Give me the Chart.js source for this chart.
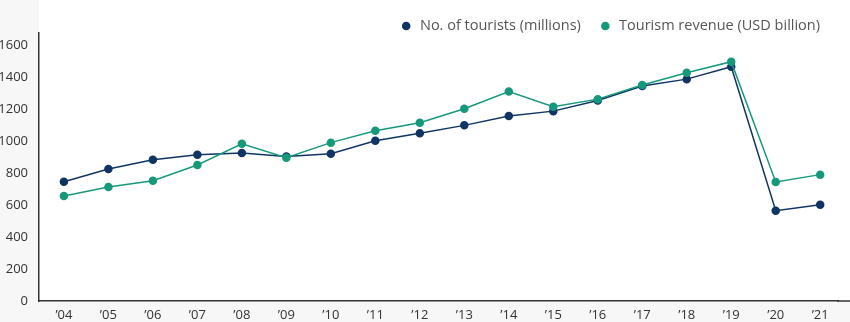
<!DOCTYPE html>
<html>
<head>
<meta charset="utf-8">
<script src="https://cdn.jsdelivr.net/npm/chart.js@4/dist/chart.umd.min.js"></script>
<style>
  html, body { margin: 0; padding: 0; background: #f7f7f7; }
  #wrap { width: 850px; height: 322px; position: relative; }
</style>
</head>
<body>
<div id="wrap"><canvas id="myChart"></canvas></div>
<script>
// years on the x axis
var years = ['\u201904', '\u201905', '\u201906', '\u201907', '\u201908', '\u201909', '\u201910', '\u201911', '\u201912',
             '\u201913', '\u201914', '\u201915', '\u201916', '\u201917', '\u201918', '\u201919', '\u201920', '\u201921'];

// No. of tourists (millions)
var tourists = [746, 825, 883, 915, 925, 904, 920, 1002, 1048, 1098, 1156, 1187, 1253, 1344, 1387, 1465, 564, 602];

// Tourism revenue (USD billion)
var revenue = [656, 712, 752, 850, 983, 896, 990, 1064, 1114, 1202, 1310, 1215, 1262, 1350, 1427, 1496, 744, 790];

var NAVY = '#103564';
var GREEN = '#16997b';
var AXIS = '#333333';
var FONT = "'Open Sans', 'Noto Sans', sans-serif";

function toPoints(values) {
    return values.map(function(v, i) { return { x: i, y: v }; });
}

// white plot panel behind the lines, page stays light grey
var panel = {
    id: 'panel',
    beforeDraw: function(chart) {
        var ctx = chart.ctx, a = chart.chartArea;
        ctx.save();
        ctx.fillStyle = '#ffffff';
        ctx.fillRect(a.left, 0, chart.width - a.left, a.bottom);
        ctx.restore();
    },
    afterDraw: function(chart) {
        // run the baseline out to the right edge
        var ctx = chart.ctx, a = chart.chartArea;
        ctx.save();
        ctx.strokeStyle = AXIS;
        ctx.lineWidth = 1.5;
        ctx.beginPath();
        ctx.moveTo(a.right - 1, a.bottom);
        ctx.lineTo(chart.width, a.bottom);
        ctx.stroke();
        ctx.restore();
    }
};

document.addEventListener('DOMContentLoaded', function() {
    var ctx = document.getElementById('myChart').getContext('2d');

    var myChart = new Chart(ctx, {
        type: 'line',
        data: {
            datasets: [{
                label: 'No. of tourists (millions)',
                data: toPoints(tourists),
                borderColor: NAVY,
                backgroundColor: NAVY,
                pointBackgroundColor: NAVY,
                pointBorderColor: NAVY,
                borderWidth: 1.5,
                order: 1
            }, {
                label: 'Tourism revenue (USD billion)',
                data: toPoints(revenue),
                borderColor: GREEN,
                backgroundColor: GREEN,
                pointBackgroundColor: GREEN,
                pointBorderColor: GREEN,
                borderWidth: 1.5,
                order: 0
            }]
        },
        options: {
            responsive: true,
            maintainAspectRatio: false,
            animation: false,
            layout: {
                padding: { top: 0.75, right: 12, left: 0, bottom: 0 }
            },
            elements: {
                line: { tension: 0 },
                point: { radius: 3.5, borderWidth: 1, hoverRadius: 4 }
            },
            plugins: {
                tooltip: { enabled: false },
                legend: {
                    position: 'top',
                    align: 'end',
                    maxHeight: 32,
                    labels: {
                        usePointStyle: true,
                        pointStyle: 'circle',
                        boxWidth: 13,
                        boxHeight: 5,
                        padding: 18,
                        color: '#555555',
                        font: { family: FONT, size: 14.5 },
                        sort: function(a, b) { return a.datasetIndex - b.datasetIndex; }
                    }
                }
            },
            scales: {
                x: {
                    type: 'linear',
                    min: -0.56,
                    max: 17.4,
                    grid: { display: false, drawTicks: false },
                    border: { display: true, color: AXIS, width: 1.5 },
                    afterFit: function(scale) { scale.height = 21; },
                    ticks: {
                        stepSize: 1,
                        includeBounds: false,
                        autoSkip: false,
                        maxRotation: 0,
                        padding: 6,
                        color: AXIS,
                        font: { family: FONT, size: 13 },
                        callback: function(value) { return years[value]; }
                    }
                },
                y: {
                    min: 0,
                    max: 1677,
                    grid: { display: false, drawTicks: false },
                    border: { display: true, color: AXIS, width: 1.5 },
                    afterFit: function(scale) { scale.width = 39; },
                    ticks: {
                        stepSize: 200,
                        includeBounds: false,
                        padding: 11,
                        color: AXIS,
                        font: { family: FONT, size: 13 },
                        callback: function(value) { return String(value); }
                    }
                }
            }
        },
        plugins: [panel]
    });
});
</script>
</body>
</html>
